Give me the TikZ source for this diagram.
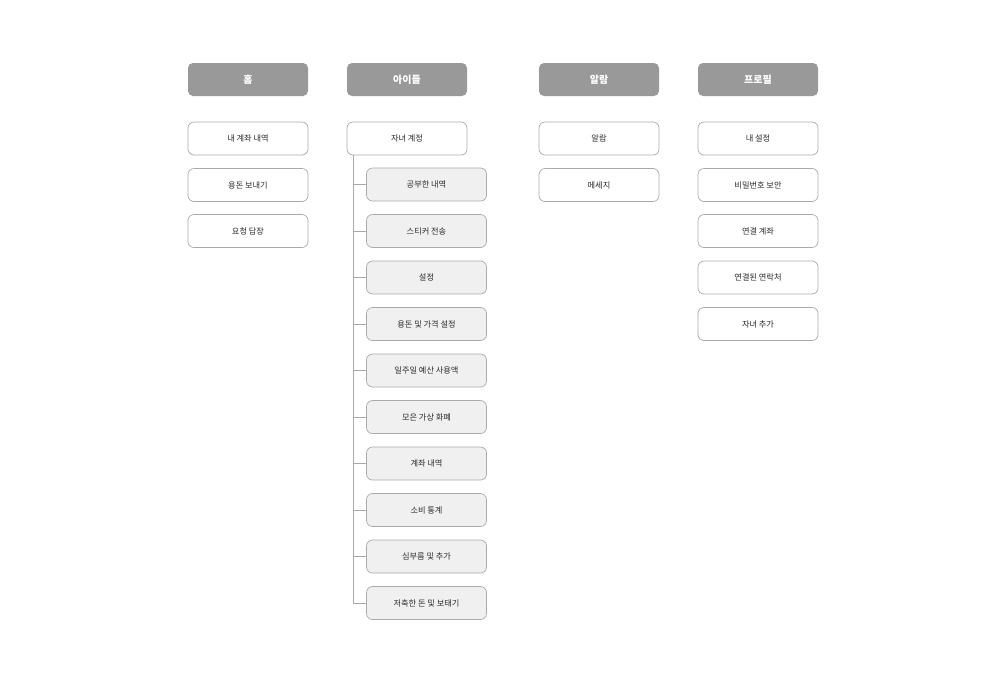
\documentclass[tikz,border=0pt]{standalone}
\usepackage{fontspec}
\newfontfamily\kr{Noto Sans CJK KR}
\begin{document}
\begin{tikzpicture}[x=1pt,y=-1pt,
  head/.style={draw=none,fill=headgray,rounded corners=5pt,minimum width=120pt,minimum height=33pt,inner sep=0pt,font=\kr\fontsize{10}{11}\selectfont\bfseries,text=white},
  item/.style={draw=boxline,line width=0.7pt,fill=white,rounded corners=6pt,minimum width=120pt,minimum height=33pt,inner sep=0pt,font=\kr\fontsize{8.2}{9}\selectfont,text=textgray},
  sub/.style={item,fill=subfill},
  link/.style={draw=boxline,line width=0.7pt}]
\definecolor{headgray}{HTML}{999999}
\definecolor{boxline}{HTML}{AAAAAA}
\definecolor{subfill}{HTML}{F0F0F0}
\definecolor{textgray}{HTML}{2A2A2A}
\useasboundingbox (0,0) rectangle (1000,694);
% headers
\node[head] (h1) at (248,79.5) {홈};
\node[head] (h2) at (407,79.5) {아이들};
\node[head] (h3) at (599,79.5) {알람};
\node[head] (h4) at (758,79.5) {프로필};
% home column
\node[item] (a1) at (248,138.5) {내 계좌 내역};
\node[item] (a2) at (248,185) {용돈 보내기};
\node[item] (a3) at (248,231) {요청 답장};
% kids column
\node[item] (b0) at (407,138.5) {자녀 계정};
\node[sub] (b1) at (426.5,184.5) {공부한 내역};
\node[sub] (b2) at (426.5,231) {스티커 전송};
\node[sub] (b3) at (426.5,277.5) {설정};
\node[sub] (b4) at (426.5,324) {용돈 및 가격 설정};
\node[sub] (b5) at (426.5,370.5) {일주일 예산 사용액};
\node[sub] (b6) at (426.5,417) {모은 가상 화폐};
\node[sub] (b7) at (426.5,463.5) {계좌 내역};
\node[sub] (b8) at (426.5,510) {소비 통계};
\node[sub] (b9) at (426.5,556.5) {심부름 및 추가};
\node[sub] (b10) at (426.5,603) {저축한 돈 및 보태기};
\coordinate (spine) at (353,0);
\draw[link] (b0.south -| spine) -- (b10.west -| spine) -- (b10.west);
\foreach \i in {1,...,9}{\draw[link] (b\i.west -| spine) -- (b\i.west);}
% alarm column
\node[item] (c1) at (599,138.5) {알람};
\node[item] (c2) at (599,185) {메세지};
% profile column
\node[item] (d1) at (758,138.5) {내 설정};
\node[item] (d2) at (758,185) {비밀번호 보안};
\node[item] (d3) at (758,231) {연결 계좌};
\node[item] (d4) at (758,277.5) {연결된 연락처};
\node[item] (d5) at (758,324) {자녀 추가};
\end{tikzpicture}
\end{document}
